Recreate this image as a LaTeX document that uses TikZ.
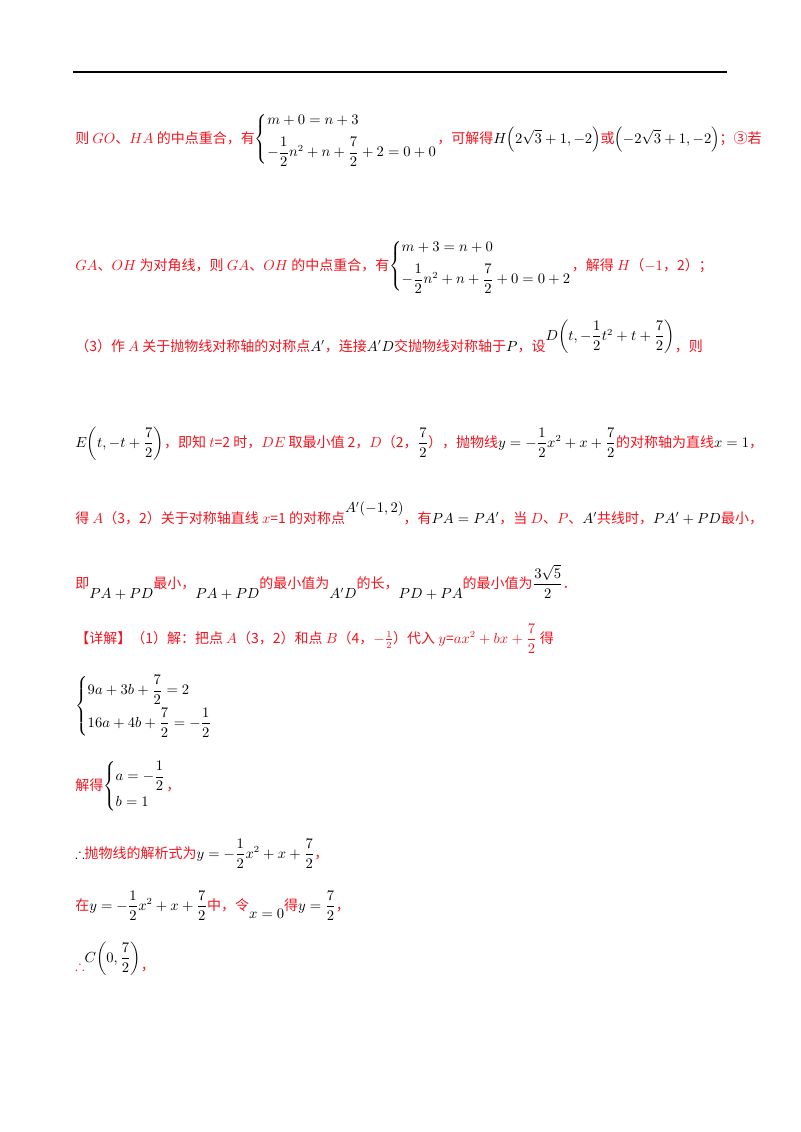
\documentclass[tikz,border=0pt]{standalone}
\usepackage[no-math]{fontspec}
\usepackage{amsmath,amssymb}
\setmainfont{Noto Sans CJK SC}
\definecolor{ansred}{RGB}{240,20,30}
\newcommand\bk[1]{\textcolor{black}{$#1$}}
\newcommand\sys[2]{\left\{\begin{array}{@{}l@{}}#1\\[6pt]#2\end{array}\right.}
\tikzset{
  line/.style = {anchor = base west, inner sep = 0pt, text = ansred, font = \fontsize{10.5}{13}\selectfont},
}
\begin{document}
\begin{tikzpicture}[x = 0.75pt, y = -0.75pt]
\useasboundingbox (0,0) rectangle (800,1132);
\draw[line width = 1.2pt] (73,72) coordinate (ruleL) -- (727,72) coordinate (ruleR);
% ② / ③ cases
\node[line] (l1) at (75,143) {则 $GO$、$HA$ 的中点重合，有\bk{\sys{m+0=n+3}{-\dfrac12n^2+n+\dfrac72+2=0+0}}，可解得\bk{H\!\left(2\sqrt3+1,-2\right)}或\bk{\left(-2\sqrt3+1,-2\right)}；③若};
\node[line] (l2) at (75,270) {$GA$、$OH$ 为对角线，则 $GA$、$OH$ 的中点重合，有\bk{\sys{m+3=n+0}{-\dfrac12n^2+n+\dfrac72+0=0+2}}，解得 $H$（$-1$，2）；};
% part (3)
\node[line] (l3) at (75,351) {（3）作 $A$ 关于抛物线对称轴的对称点\bk{A'}，连接\bk{A'D}交抛物线对称轴于\bk{P}，设\raisebox{8pt}{\bk{D\!\left(t,-\dfrac12t^2+t+\dfrac72\right)}}，则};
\node[line] (l4) at (75,447) {\bk{E\!\left(t,-t+\dfrac72\right)}，即知 $t$=2 时，$DE$ 取最小值 2，$D$（2，\bk{\dfrac72}），抛物线\bk{y=-\dfrac12x^2+x+\dfrac72}的对称轴为直线\bk{x=1}，};
\node[line] (l5) at (75,523) {得 $A$（3，2）关于对称轴直线 $x$=1 的对称点\raisebox{8pt}{\bk{A'(-1,2)}}，有\bk{PA=PA'}，当 $D$、$P$、\bk{A'}共线时，\bk{PA'+PD}最小，};
\node[line] (l6) at (75,588) {即\raisebox{-8pt}{\bk{PA+PD}}最小，\raisebox{-8pt}{\bk{PA+PD}}的最小值为\raisebox{-8pt}{\bk{A'D}}的长，\raisebox{-8pt}{\bk{PD+PA}}的最小值为\bk{\dfrac{3\sqrt5}{2}}．};
% detailed solution
\node[line] (l7) at (75,643) {【详解】（1）解：把点 $A$（3，2）和点 $B$（4，$-\frac12$）代入 $y$=$ax^2+bx+\dfrac72$ 得};
\node[line] (l8) at (75,710) {\bk{\sys{9a+3b+\dfrac72=2}{16a+4b+\dfrac72=-\dfrac12}}};
\node[line] (l9) at (75,790) {解得\bk{\sys{a=-\dfrac12}{b=1}}，};
\node[line] (l10) at (75,858) {\bk{\therefore}抛物线的解析式为\bk{y=-\dfrac12x^2+x+\dfrac72}，};
\node[line] (l11) at (75,910) {在\bk{y=-\dfrac12x^2+x+\dfrac72}中，令\raisebox{-6pt}{\bk{x=0}}得\bk{y=\dfrac72}，};
\node[line] (l12) at (75,970) {$\therefore$\raisebox{6pt}{\bk{C\!\left(0,\dfrac72\right)}}，};
\end{tikzpicture}
\end{document}
